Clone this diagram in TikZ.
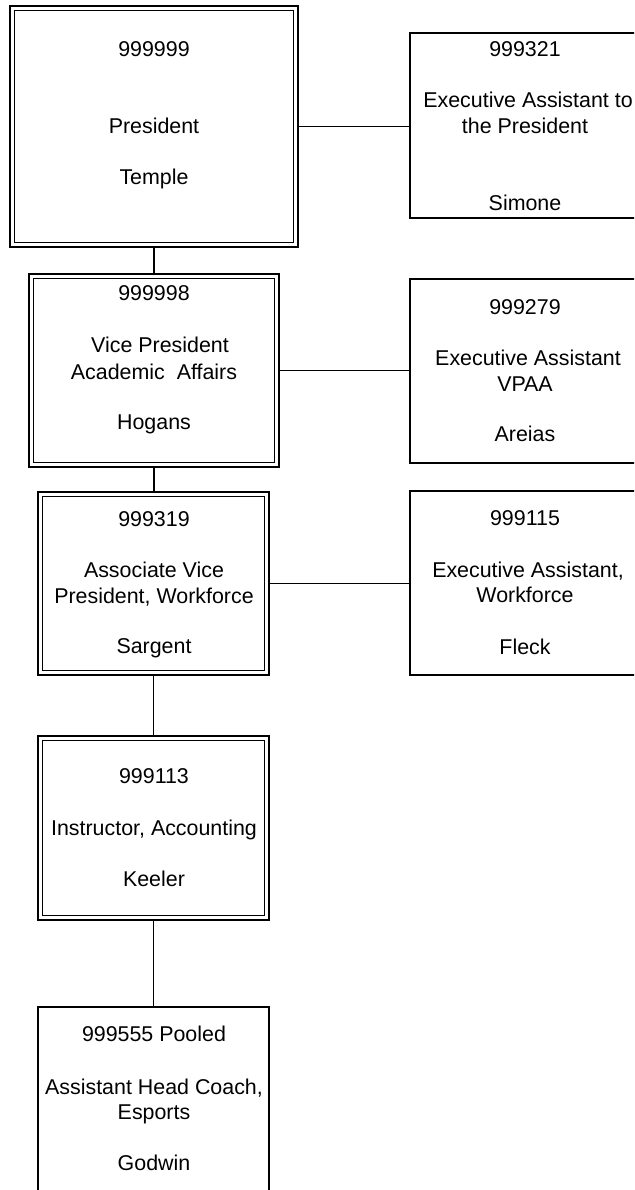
\documentclass[tikz,border=0pt]{standalone}
\usepackage{fontspec}
\setmainfont{Liberation Sans}
\begin{document}
\begin{tikzpicture}[x=1pt,y=-1pt,
  box/.style={draw=black,line width=1.7pt,fill=white,rectangle,inner sep=0pt,minimum width=#1},
  box/.default=231,
  conn/.style={draw=black,line width=1.7pt},
  inr/.style={draw=black,line width=1.2pt},
  txt/.style={inner sep=0pt,anchor=base,font=\fontsize{21.4}{25.6}\selectfont}]
\clip (0,0) rectangle (634,1190);
\useasboundingbox (0,0) rectangle (634,1190);
% boxes
\node[box=288,minimum height=241] (P) at (154,126.5) {};
\node[box=230,minimum height=185] (E1) at (525,125.5) {};
\node[box=250,minimum height=193] (VP) at (154,370.5) {};
\node[box=230,minimum height=184] (E2) at (525,371) {};
\node[box=231,minimum height=183] (AVP) at (153.5,583.5) {};
\node[box=230,minimum height=184] (E3) at (525,583) {};
\node[box=231,minimum height=184] (I) at (153.5,828) {};
\node[box=231,minimum height=185] (PO) at (153.5,1099.5) {};
% inner lines of the double boxes
\foreach \b in {P,VP,AVP,I}
  \draw[inr] ([shift={(5,5)}]\b.north west) rectangle ([shift={(-5,-5)}]\b.south east);
% connectors
\draw[conn] (P.east) -- (P.east -| E1.west);
\draw[conn] (VP.east) -- (VP.east -| E2.west);
\draw[conn] (AVP.east) -- (AVP.east -| E3.west);
\draw[conn] (P.south) -- (P.south |- VP.north);
\draw[conn] (VP.south) -- (VP.south |- AVP.north);
\draw[conn] (AVP.south) -- (AVP.south |- I.north);
\draw[conn] (I.south) -- (I.south |- PO.north);
% texts
\node[txt] (t1) at (154,56.5) {999999};
\node[txt] (t2) at (154,133.5) {President};
\node[txt] (t3) at (154,184.5) {Temple};
\node[txt] (t4) at (525,56.5) {999321};
\node[txt] (t5) at (528,107.5) {Executive Assistant to};
\node[txt] (t6) at (525,133.5) {the President};
\node[txt] (t7) at (525,210.5) {Simone};
\node[txt] (t8) at (154,300.5) {999998};
\node[txt] (t9) at (160,352.5) {Vice President};
\node[txt] (t10) at (154,379.5) {Academic\ \ Affairs};
\node[txt] (t11) at (154,429.5) {Hogans};
\node[txt] (t12) at (525,314.5) {999279};
\node[txt] (t13) at (528,365.5) {Executive Assistant};
\node[txt] (t14) at (525,391.5) {VPAA};
\node[txt] (t15) at (525,441.5) {Areias};
\node[txt] (t16) at (154,526.5) {999319};
\node[txt] (t17) at (154,577.5) {Associate Vice};
\node[txt] (t18) at (154,603.5) {President, Workforce};
\node[txt] (t19) at (154,653.5) {Sargent};
\node[txt] (t20) at (525,525.5) {999115};
\node[txt] (t21) at (528,577.5) {Executive Assistant,};
\node[txt] (t22) at (525,602.5) {Workforce};
\node[txt] (t23) at (525,654.5) {Fleck};
\node[txt] (t24) at (154,783.5) {999113};
\node[txt] (t25) at (154,835.5) {Instructor, Accounting};
\node[txt] (t26) at (154,886.5) {Keeler};
\node[txt] (t27) at (154,1041.5) {999555 Pooled};
\node[txt] (t28) at (154,1094.5) {Assistant Head Coach,};
\node[txt] (t29) at (154,1119.5) {Esports};
\node[txt] (t30) at (154,1170.5) {Godwin};
\end{tikzpicture}
\end{document}
